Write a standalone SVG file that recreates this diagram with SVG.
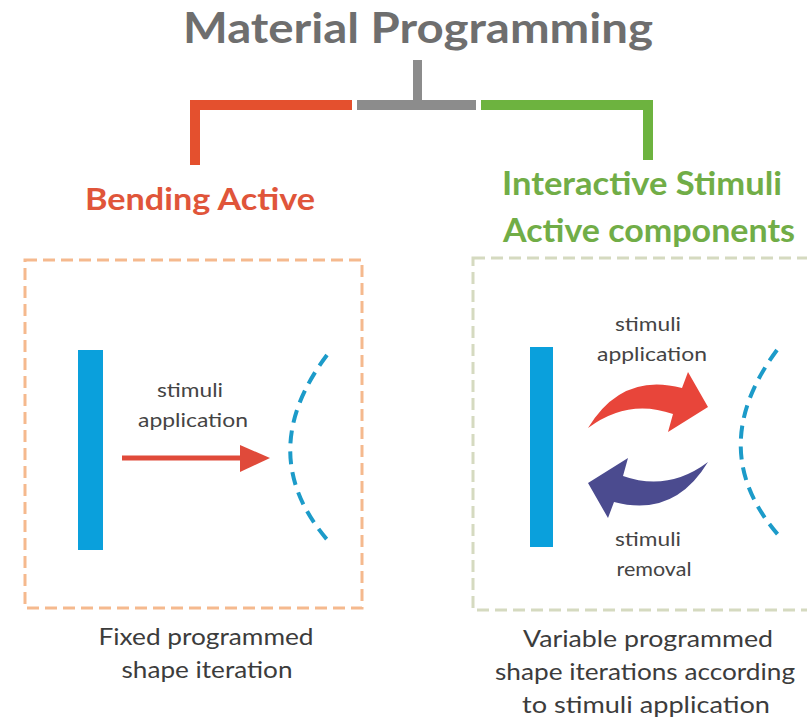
<svg xmlns="http://www.w3.org/2000/svg" width="807" height="725" viewBox="0 0 807 725">
<style>
.title{font-family:Lato,"Open Sans","Liberation Sans",sans-serif;font-weight:bold;fill:#6e6e6e;text-anchor:middle}
.head{font-family:Lato,"Open Sans","Liberation Sans",sans-serif;font-weight:bold;text-anchor:middle}
.lbl{font-family:Lato,"Open Sans","Liberation Sans",sans-serif;fill:#444;text-anchor:middle}
.cap{font-family:Lato,"Open Sans","Liberation Sans",sans-serif;fill:#3c3c3c;text-anchor:middle}
.bar{fill:#0aa0dc}
.arc{fill:none;stroke:#1c9bc9;stroke-width:4;stroke-dasharray:13 8}
</style>
<rect width="807" height="725" fill="#ffffff"/>
<g id="title">
<text class="title" x="418" y="43" font-size="42" textLength="470" lengthAdjust="spacingAndGlyphs">Material Programming</text>
</g>
<g id="connectors">
<rect x="413" y="60" width="9" height="45" fill="#8c8c8c"/>
<rect x="357" y="100" width="119" height="10" fill="#8c8c8c"/>
<path d="M195,165 V105 H352" fill="none" stroke="#e4502e" stroke-width="10"/>
<path d="M481,105 H648 V160" fill="none" stroke="#6db33f" stroke-width="10"/>
</g>
<g id="bending-active">
<text class="head" x="200" y="210" font-size="31" fill="#e0553a" textLength="230" lengthAdjust="spacingAndGlyphs">Bending Active</text>
<rect x="25" y="260" width="337" height="348" fill="none" stroke="#f5b98e" stroke-width="3" stroke-dasharray="12 6"/>
<rect class="bar" x="78" y="350" width="25" height="200"/>
<line x1="122" y1="458" x2="242" y2="458" stroke="#e04a3a" stroke-width="5"/>
<polygon points="240,445 270,458 240,472" fill="#e04a3a"/>
<text class="lbl" x="190" y="397" font-size="19" textLength="66" lengthAdjust="spacingAndGlyphs">stimuli</text>
<text class="lbl" x="193" y="427" font-size="19" textLength="110" lengthAdjust="spacingAndGlyphs">application</text>
<path class="arc" d="M327,355 Q252,455 330,543"/>
<text class="cap" x="206" y="645" font-size="23" textLength="215" lengthAdjust="spacingAndGlyphs">Fixed programmed</text>
<text class="cap" x="207" y="678" font-size="23" textLength="171" lengthAdjust="spacingAndGlyphs">shape iteration</text>
</g>
<g id="interactive-stimuli">
<text class="head" x="642" y="195" font-size="32" fill="#71ad47" textLength="280" lengthAdjust="spacingAndGlyphs">Interactive Stimuli</text>
<text class="head" x="649" y="242" font-size="32" fill="#71ad47" textLength="292" lengthAdjust="spacingAndGlyphs">Active components</text>
<rect x="473" y="258" width="345" height="352" fill="none" stroke="#d5dac0" stroke-width="3" stroke-dasharray="12 6"/>
<rect class="bar" x="530" y="347" width="23" height="200"/>
<text class="lbl" x="648" y="331" font-size="19" textLength="66" lengthAdjust="spacingAndGlyphs">stimuli</text>
<text class="lbl" x="652" y="361" font-size="19" textLength="110" lengthAdjust="spacingAndGlyphs">application</text>
<path id="apply-arrow" d="M588,428 Q622,372 682,388 L688,372 L708,407 L668,432 L673,414 Q628,398 588,428 Z" fill="#e8453a"/>
<path id="remove-arrow" d="M588,428 Q622,372 682,388 L688,372 L708,407 L668,432 L673,414 Q628,398 588,428 Z" fill="#4b4b8f" transform="rotate(180 648 445)"/>
<text class="lbl" x="648" y="546" font-size="19" textLength="66" lengthAdjust="spacingAndGlyphs">stimuli</text>
<text class="lbl" x="654" y="576" font-size="19" textLength="75" lengthAdjust="spacingAndGlyphs">removal</text>
<path class="arc" d="M777,350 Q703,450 780,537"/>
<text class="cap" x="648" y="647" font-size="23" textLength="250" lengthAdjust="spacingAndGlyphs">Variable programmed</text>
<text class="cap" x="645" y="680" font-size="23" textLength="300" lengthAdjust="spacingAndGlyphs">shape iterations according</text>
<text class="cap" x="646" y="713" font-size="23" textLength="248" lengthAdjust="spacingAndGlyphs">to stimuli application</text>
</g>
</svg>
